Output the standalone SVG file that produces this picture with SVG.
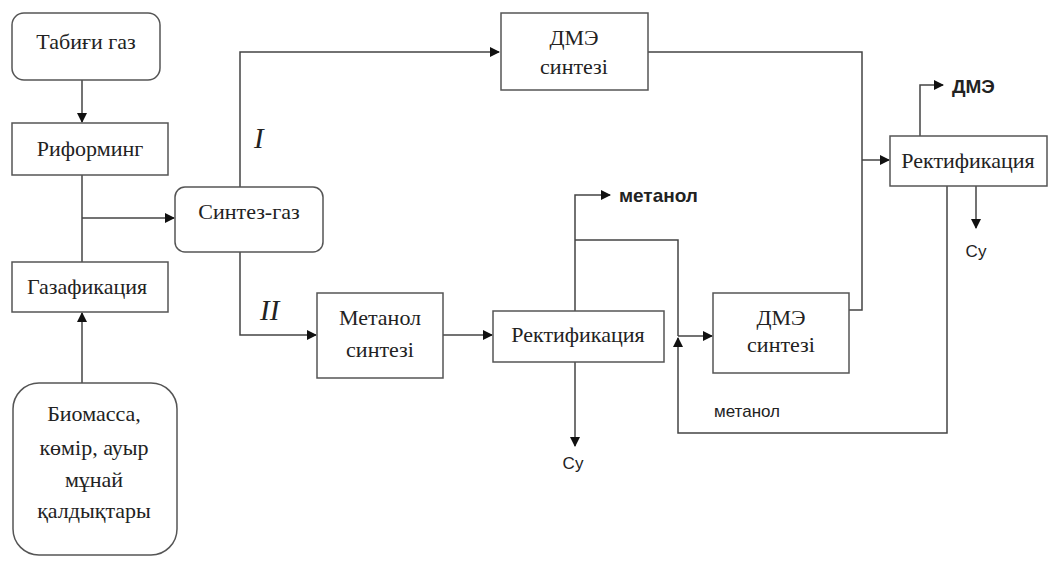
<svg xmlns="http://www.w3.org/2000/svg" width="1049" height="561" viewBox="0 0 1049 561">
<style>
.box{fill:#fff;stroke:#555;stroke-width:1.5}
.t{font-family:"Liberation Serif","Times New Roman",serif;font-size:22px;fill:#222;text-anchor:middle}
.s{font-family:"Liberation Sans",Arial,sans-serif;fill:#222}
.c{fill:none;stroke:#444;stroke-width:1.5}
.rn{font-family:"Liberation Serif","Times New Roman",serif;font-style:italic;font-size:29px;fill:#222}
</style>
<defs>
<marker id="a" markerWidth="10" markerHeight="10" refX="9" refY="5" orient="auto" markerUnits="userSpaceOnUse">
<path d="M0,0 L10,5 L0,10 z" fill="#111"/>
</marker>
</defs>
<g id="connectors">
<path class="c" d="M82,80 V122" marker-end="url(#a)"/>
<path class="c" d="M82,175 V262"/>
<path class="c" d="M82,218 H174" marker-end="url(#a)"/>
<path class="c" d="M82,383 V313" marker-end="url(#a)"/>
<path class="c" d="M240,187 V52 H499" marker-end="url(#a)"/>
<path class="c" d="M240,252 V335 H316" marker-end="url(#a)"/>
<path class="c" d="M443,335 H492" marker-end="url(#a)"/>
<path class="c" d="M575,311 V195 H610" marker-end="url(#a)"/>
<path class="c" d="M575,240 H678 V336"/>
<path class="c" d="M678,336 H712" marker-end="url(#a)"/>
<path class="c" d="M947,186 V433 H678 V338" marker-end="url(#a)"/>
<path class="c" d="M575,362 V446" marker-end="url(#a)"/>
<path class="c" d="M648,52 H862 V310 H849"/>
<path class="c" d="M862,160 H889" marker-end="url(#a)"/>
<path class="c" d="M920,136 V85 H943" marker-end="url(#a)"/>
<path class="c" d="M976,186 V228" marker-end="url(#a)"/>
</g>
<g id="natural-gas">
<rect class="box" x="12" y="13" width="148" height="67" rx="12"/>
<text class="t" x="86" y="49">Табиғи газ</text>
</g>
<g id="reforming">
<rect class="box" x="12" y="123" width="156" height="52"/>
<text class="t" x="90" y="156">Риформинг</text>
</g>
<g id="gasification">
<rect class="box" x="12" y="262" width="156" height="50"/>
<text class="t" x="87" y="294">Газафикация</text>
</g>
<g id="biomass">
<rect class="box" x="13" y="383" width="164" height="172" rx="26"/>
<text class="t" x="94" y="421">Биомасса,</text>
<text class="t" x="94" y="455">көмір, ауыр</text>
<text class="t" x="94" y="487">мұнай</text>
<text class="t" x="94" y="518">қалдықтары</text>
</g>
<g id="syngas">
<rect class="box" x="175" y="187" width="148" height="65" rx="10"/>
<text class="t" x="249" y="219">Синтез-газ</text>
</g>
<g id="dme-synthesis-1">
<rect class="box" x="501" y="13" width="147" height="77"/>
<text class="t" x="574" y="45">ДМЭ</text>
<text class="t" x="574" y="74">синтезі</text>
</g>
<g id="methanol-synthesis">
<rect class="box" x="317" y="293" width="126" height="85"/>
<text class="t" x="380" y="325">Метанол</text>
<text class="t" x="380" y="357">синтезі</text>
</g>
<g id="rectification-1">
<rect class="box" x="493" y="311" width="171" height="51"/>
<text class="t" x="578" y="342">Ректификация</text>
</g>
<g id="dme-synthesis-2">
<rect class="box" x="713" y="293" width="136" height="80"/>
<text class="t" x="781" y="325">ДМЭ</text>
<text class="t" x="781" y="352">синтезі</text>
</g>
<g id="rectification-2">
<rect class="box" x="890" y="136" width="157" height="50"/>
<text class="t" x="968" y="168">Ректификация</text>
</g>
<g id="labels">
<text class="rn" x="254" y="148">I</text>
<text class="rn" x="260" y="320">II</text>
<text class="s" x="619" y="202" font-size="19" font-weight="bold">метанол</text>
<text class="s" x="952" y="93" font-size="19" font-weight="bold">ДМЭ</text>
<text class="s" x="714" y="417" font-size="17">метанол</text>
<text class="s" x="573" y="469" font-size="17" text-anchor="middle">Су</text>
<text class="s" x="976" y="257" font-size="17" text-anchor="middle">Су</text>
</g>
</svg>
